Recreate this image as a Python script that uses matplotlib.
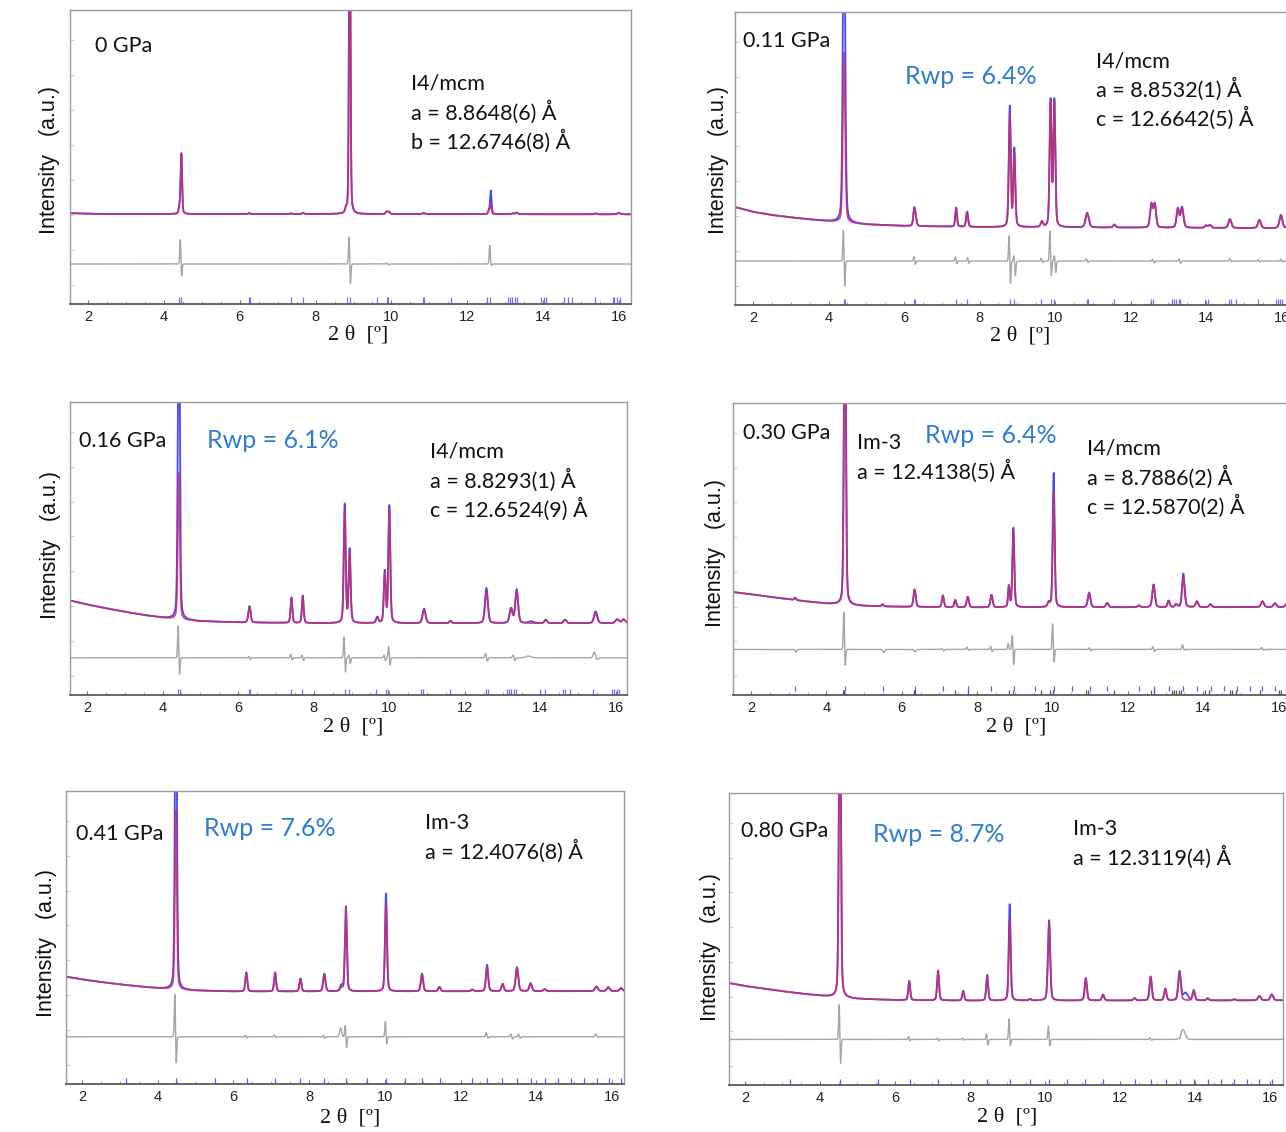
import matplotlib.pyplot as plt
import numpy as np

W, H = 1286, 1132

# background level (fraction of panel height) read at these 2theta values
bg_x = [1.5, 2, 2.5, 3, 3.5, 4, 4.5, 5, 6, 8, 16.4]
bg_000 = [0.309, 0.307, 0.306, 0.306, 0.306, 0.306, 0.306, 0.306, 0.306, 0.306, 0.305]
bg_011 = [0.335, 0.318, 0.307, 0.299, 0.292, 0.286, 0.280, 0.275, 0.270, 0.266, 0.262]
bg_016 = [0.324, 0.309, 0.296, 0.284, 0.273, 0.264, 0.257, 0.252, 0.248, 0.245, 0.245]
bg_030 = [0.353, 0.345, 0.336, 0.328, 0.320, 0.313, 0.308, 0.305, 0.302, 0.300, 0.301]
bg_041 = [0.368, 0.357, 0.348, 0.340, 0.333, 0.327, 0.322, 0.319, 0.316, 0.316, 0.317]
bg_080 = [0.351, 0.339, 0.330, 0.321, 0.313, 0.306, 0.300, 0.295, 0.291, 0.289, 0.290]

# peaks: (2theta, observed height, calculated height, fwhm)
pk_000 = [(4.41, 0.02, 0.02, 0.05), (4.46, 0.205, 0.20, 0.045), (6.25, 0.003, 0.003, 0.06),
          (7.35, 0.002, 0.002, 0.06), (7.67, 0.004, 0.004, 0.06), (8.80, 0.012, 0.012, 0.05),
          (8.90, 1.2, 1.1, 0.045), (9.87, 0.008, 0.008, 0.06), (9.93, 0.008, 0.008, 0.06),
          (10.85, 0.004, 0.004, 0.07), (12.57, 0.012, 0.012, 0.05), (12.62, 0.08, 0.035, 0.045),
          (13.20, 0.003, 0.003, 0.07), (13.30, 0.005, 0.005, 0.07), (15.38, 0.003, 0.003, 0.07),
          (16.00, 0.004, 0.004, 0.12)]
pk_011 = [(4.41, 1.2, 0.58, 0.07), (6.27, 0.058, 0.055, 0.06), (6.31, 0.02, 0.02, 0.06),
          (7.38, 0.065, 0.062, 0.055), (7.67, 0.052, 0.05, 0.06), (8.80, 0.41, 0.38, 0.06),
          (8.92, 0.265, 0.25, 0.06), (9.65, 0.018, 0.018, 0.07), (9.88, 0.43, 0.42, 0.06),
          (9.98, 0.43, 0.42, 0.06), (10.85, 0.05, 0.048, 0.1), (11.57, 0.01, 0.01, 0.08),
          (12.55, 0.08, 0.077, 0.08), (12.64, 0.08, 0.077, 0.08), (13.25, 0.065, 0.06, 0.08),
          (13.36, 0.07, 0.066, 0.09), (14.00, 0.008, 0.008, 0.08), (14.10, 0.01, 0.01, 0.08),
          (14.63, 0.03, 0.03, 0.09), (15.41, 0.028, 0.028, 0.09), (15.98, 0.045, 0.045, 0.09),
          (16.20, 0.02, 0.02, 0.09)]
pk_016 = [(4.43, 1.2, 0.5, 0.06), (6.30, 0.056, 0.054, 0.07), (7.41, 0.087, 0.082, 0.055),
          (7.71, 0.094, 0.09, 0.055), (8.82, 0.405, 0.375, 0.06), (8.95, 0.25, 0.24, 0.06),
          (9.68, 0.02, 0.02, 0.07), (9.88, 0.175, 0.165, 0.06), (10.00, 0.40, 0.39, 0.06),
          (10.92, 0.05, 0.048, 0.09), (11.62, 0.008, 0.008, 0.07), (12.57, 0.12, 0.11, 0.09),
          (13.22, 0.05, 0.05, 0.09), (13.37, 0.115, 0.11, 0.09), (13.75, 0.006, 0.0, 0.16),
          (14.14, 0.012, 0.012, 0.08), (14.65, 0.012, 0.012, 0.09), (15.46, 0.04, 0.035, 0.1),
          (16.03, 0.013, 0.013, 0.11), (16.20, 0.013, 0.013, 0.11)]
pk_030 = [(3.17, 0.008, 0.008, 0.05), (4.49, 1.2, 1.0, 0.06), (5.49, 0.006, 0.008, 0.06),
          (6.34, 0.058, 0.06, 0.07), (7.09, 0.04, 0.04, 0.06), (7.42, 0.025, 0.025, 0.06),
          (7.75, 0.036, 0.035, 0.07), (8.38, 0.043, 0.042, 0.07), (8.84, 0.072, 0.07, 0.05),
          (8.96, 0.272, 0.26, 0.06), (9.90, 0.015, 0.015, 0.07), (10.03, 0.46, 0.395, 0.06),
          (10.97, 0.05, 0.05, 0.08), (11.45, 0.015, 0.015, 0.08), (12.29, 0.006, 0.006, 0.08),
          (12.68, 0.078, 0.075, 0.08), (13.08, 0.022, 0.022, 0.07), (13.28, 0.01, 0.01, 0.07),
          (13.47, 0.115, 0.10, 0.08), (13.83, 0.02, 0.02, 0.08), (14.19, 0.01, 0.01, 0.08),
          (15.57, 0.02, 0.02, 0.09), (15.90, 0.013, 0.013, 0.09), (16.22, 0.013, 0.013, 0.09)]
pk_041 = [(4.48, 1.2, 0.61, 0.06), (6.34, 0.065, 0.062, 0.06), (7.10, 0.065, 0.063, 0.06),
          (7.77, 0.044, 0.043, 0.06), (8.40, 0.06, 0.058, 0.07), (8.85, 0.02, 0.01, 0.07),
          (8.97, 0.29, 0.285, 0.06), (10.03, 0.334, 0.298, 0.06), (10.98, 0.06, 0.058, 0.07),
          (11.44, 0.015, 0.015, 0.07), (12.31, 0.006, 0.006, 0.07), (12.70, 0.09, 0.08, 0.07),
          (13.11, 0.025, 0.025, 0.07), (13.49, 0.082, 0.08, 0.08), (13.85, 0.027, 0.026, 0.08),
          (14.22, 0.007, 0.007, 0.08), (15.59, 0.016, 0.016, 0.09), (15.90, 0.013, 0.013, 0.09),
          (16.24, 0.01, 0.01, 0.09)]
pk_080 = [(4.53, 1.2, 1.1, 0.06), (6.38, 0.066, 0.064, 0.06), (7.15, 0.102, 0.1, 0.06),
          (7.82, 0.033, 0.033, 0.06), (8.46, 0.088, 0.085, 0.06), (9.06, 0.33, 0.274, 0.06),
          (9.60, 0.005, 0.005, 0.07), (10.11, 0.275, 0.272, 0.07), (11.09, 0.077, 0.075, 0.07),
          (11.55, 0.02, 0.02, 0.07), (12.39, 0.008, 0.008, 0.07), (12.82, 0.082, 0.08, 0.07),
          (13.21, 0.04, 0.04, 0.07), (13.59, 0.099, 0.097, 0.08), (13.75, 0.025, 0.0, 0.15),
          (13.97, 0.035, 0.033, 0.07), (14.34, 0.007, 0.007, 0.07), (15.05, 0.004, 0.004, 0.07),
          (15.72, 0.015, 0.015, 0.09), (16.05, 0.02, 0.02, 0.09)]

# difference curve level and features: (2theta, up, down, width)
dl_000, df_000 = 0.136, [(4.45, 0.085, 0.044, 0.035), (8.90, 0.095, 0.071, 0.035), (12.61, 0.064, 0.007, 0.035),
                         (9.90, 0.004, 0.003, 0.04)]
dl_011, df_011 = 0.150, [(4.41, 0.11, 0.09, 0.035), (8.80, 0.09, 0.08, 0.035), (8.93, 0.02, 0.05, 0.035),
                         (9.88, 0.106, 0.055, 0.035), (10.0, 0.02, 0.04, 0.035), (6.28, 0.015, 0.012, 0.035),
                         (7.38, 0.015, 0.01, 0.035), (7.70, 0.012, 0.008, 0.035), (9.65, 0.01, 0.005, 0.035),
                         (10.85, 0.008, 0.006, 0.04), (12.60, 0.006, 0.006, 0.04), (13.30, 0.008, 0.008, 0.04),
                         (14.65, 0.008, 0.003, 0.04), (15.40, 0.005, 0.003, 0.04), (16.0, 0.006, 0.003, 0.04)]
dl_016, df_016 = 0.127, [(4.43, 0.112, 0.062, 0.035), (8.82, 0.073, 0.052, 0.035), (8.95, 0.01, 0.02, 0.035),
                         (10.0, 0.04, 0.027, 0.035), (9.88, 0.01, 0.01, 0.035), (7.41, 0.012, 0.008, 0.035),
                         (7.71, 0.01, 0.01, 0.035), (6.30, 0.005, 0.005, 0.035), (12.57, 0.015, 0.012, 0.045),
                         (13.30, 0.01, 0.01, 0.045), (15.46, 0.02, 0.007, 0.07), (13.75, 0.006, 0.0, 0.15)]
dl_030, df_030 = 0.156, [(4.48, 0.13, 0.06, 0.035), (8.95, 0.05, 0.054, 0.035), (8.84, 0.02, 0.0, 0.035),
                         (10.02, 0.09, 0.047, 0.035), (3.17, 0.0, 0.01, 0.04), (5.49, 0.0, 0.01, 0.06),
                         (6.33, 0.0, 0.008, 0.05), (7.09, 0.003, 0.005, 0.04), (7.75, 0.008, 0.003, 0.04),
                         (8.38, 0.01, 0.008, 0.035), (11.0, 0.006, 0.005, 0.04), (12.68, 0.01, 0.008, 0.04),
                         (13.47, 0.016, 0.003, 0.04), (15.57, 0.007, 0.002, 0.05)]
dl_041, df_041 = 0.161, [(4.47, 0.15, 0.096, 0.035), (8.86, 0.03, 0.0, 0.06), (8.97, 0.04, 0.039, 0.035),
                         (10.03, 0.054, 0.027, 0.035), (6.34, 0.006, 0.004, 0.035), (7.10, 0.006, 0.003, 0.035),
                         (8.40, 0.005, 0.005, 0.035), (12.70, 0.015, 0.005, 0.04), (13.35, 0.01, 0.008, 0.04),
                         (13.55, 0.01, 0.005, 0.04), (15.60, 0.01, 0.002, 0.05)]
dl_080, df_080 = 0.156, [(4.53, 0.124, 0.088, 0.035), (9.06, 0.071, 0.024, 0.035), (10.11, 0.047, 0.024, 0.035),
                         (8.46, 0.02, 0.02, 0.035), (6.38, 0.01, 0.005, 0.035), (7.15, 0.005, 0.005, 0.035),
                         (7.82, 0.005, 0.003, 0.035), (12.82, 0.006, 0.003, 0.04), (13.75, 0.034, 0.0, 0.14),
                         (13.58, 0.0, 0.01, 0.04)]

# Bragg reflection markers
tk_i4 = [4.40, 4.45, 6.25, 6.28, 7.35, 7.67, 8.82, 8.90, 9.63, 9.87, 9.92, 10.82, 10.86, 11.57,
         12.53, 12.60, 13.08, 13.13, 13.18, 13.25, 13.30, 13.95, 14.03, 14.07, 14.55, 14.65, 14.75,
         15.38, 15.83, 15.88, 15.95, 16.03]
tk_i4_011 = [4.40, 4.44, 6.27, 6.30, 7.38, 7.67, 8.80, 8.90, 9.63, 9.88, 9.96, 10.84, 10.88, 11.56,
             12.53, 12.60, 13.10, 13.15, 13.20, 13.28, 13.32, 13.98, 14.05, 14.60, 14.66, 14.78,
             15.38, 15.85, 15.90, 15.95, 16.00]
tk_i4_016 = [4.42, 4.46, 6.28, 6.31, 7.40, 7.70, 8.82, 8.93, 9.65, 9.90, 9.97, 10.85, 10.90, 11.60,
             12.55, 12.62, 13.12, 13.17, 13.22, 13.30, 13.35, 14.00, 14.12, 14.60, 14.66, 14.78,
             15.40, 15.88, 15.95, 16.02, 16.08]
tk_i4_030 = [4.45, 4.48, 6.33, 6.36, 7.42, 7.75, 8.85, 8.95, 9.70, 9.92, 10.00, 10.90, 10.95, 11.62,
             12.60, 12.68, 13.18, 13.22, 13.27, 13.35, 13.42, 14.05, 14.15, 14.70, 14.75, 14.88,
             15.50, 16.00, 16.05]
tk_im3_030 = [3.17, 4.49, 5.49, 6.35, 7.10, 7.75, 8.38, 8.97, 9.53, 10.03, 10.52, 11.00, 11.45, 12.30,
              12.70, 13.08, 13.47, 13.82, 14.20, 14.55, 14.90, 15.25, 15.57, 15.90, 16.20]
tk_im3_041 = [3.17, 4.48, 5.50, 6.35, 7.10, 7.77, 8.40, 8.97, 9.52, 10.03, 10.52, 10.98, 11.45, 12.30,
              12.70, 13.10, 13.48, 13.87, 14.22, 14.58, 14.93, 15.27, 15.60, 15.93, 16.25]
tk_im3_080 = [3.20, 4.53, 5.55, 6.40, 7.15, 7.82, 8.46, 9.06, 9.60, 10.10, 10.60, 11.08, 11.55, 12.40,
              12.82, 13.22, 13.60, 13.98, 14.35, 14.70, 15.05, 15.40, 15.72, 16.05]

# panel layout in pixels: box (left, right, top, bottom), xlim, texts
panels = [
    dict(box=(70, 631, 10, 304), xlim=(1.525, 16.316), bg=bg_000, pk=pk_000, dl=dl_000, df=df_000,
         ticks=[(tk_i4, '#7070ff', 0.0, 0.024)], ylab=(50, 160), xlab=(358, 335),
         press=('0 GPa', 95, 46), rwp=None,
         blocks=[(411, 84, ['I4/mcm', 'a = 8.8648(6) Å', 'b = 12.6746(8) Å'])]),
    dict(box=(735, 1293, 12, 305), xlim=(1.523, 16.3), bg=bg_011, pk=pk_011, dl=dl_011, df=df_011,
         ticks=[(tk_i4_011, '#7070ff', 0.0, 0.022)], ylab=(718, 160), xlab=(1020, 336),
         press=('0.11 GPa', 743, 41), rwp=('Rwp = 6.4%', 905, 76),
         blocks=[(1096, 61, ['I4/mcm', 'a = 8.8532(1) Å', 'c = 12.6642(5) Å'])]),
    dict(box=(70, 627, 402, 695), xlim=(1.55, 16.29), bg=bg_016, pk=pk_016, dl=dl_016, df=df_016,
         ticks=[(tk_i4_016, '#7070ff', 0.0, 0.02)], ylab=(51, 545), xlab=(353, 727),
         press=('0.16 GPa', 79, 441), rwp=('Rwp = 6.1%', 207, 440),
         blocks=[(430, 452, ['I4/mcm', 'a = 8.8293(1) Å', 'c = 12.6524(9) Å'])]),
    dict(box=(733, 1290, 403, 695), xlim=(1.522, 16.3), bg=bg_030, pk=pk_030, dl=dl_030, df=df_030,
         ticks=[(tk_i4_030, '#555555', 0.0, 0.018), (tk_im3_030, '#5a5aff', 0.012, 0.032)],
         ylab=(716, 553), xlab=(1016, 727),
         press=('0.30 GPa', 743, 433), rwp=('Rwp = 6.4%', 925, 435),
         blocks=[(857, 443, ['Im-3', 'a = 12.4138(5) Å']),
                 (1087, 449, ['I4/mcm', 'a = 8.7886(2) Å', 'c = 12.5870(2) Å'])]),
    dict(box=(66, 624, 791, 1084), xlim=(1.577, 16.317), bg=bg_041, pk=pk_041, dl=dl_041, df=df_041,
         ticks=[(tk_im3_041, '#5a5aff', 0.0, 0.02)], ylab=(47, 943), xlab=(350, 1118),
         press=('0.41 GPa', 76, 834), rwp=('Rwp = 7.6%', 204, 829),
         blocks=[(425, 823, ['Im-3', 'a = 12.4076(8) Å'])]),
    dict(box=(729, 1283, 793, 1085), xlim=(1.573, 16.35), bg=bg_080, pk=pk_080, dl=dl_080, df=df_080,
         ticks=[(tk_im3_080, '#5a5aff', 0.0, 0.02)], ylab=(711, 947), xlab=(1007, 1117),
         press=('0.80 GPa', 741, 831), rwp=('Rwp = 8.7%', 873, 834),
         blocks=[(1073, 829, ['Im-3', 'a = 12.3119(4) Å'])]),
]

LN2 = 4 * np.log(2)


def profile(x, peaks, col):
    y = np.zeros_like(x)
    for pk in peaks:
        pos, h, w = pk[0], pk[col], pk[3]
        g = np.exp(-LN2 * ((x - pos) / w) ** 2)
        lor = 1 / (1 + 4 * ((x - pos) / w) ** 2)
        y += h * (0.7 * g + 0.3 * lor)
    return y


def diff_curve(x, feats):
    y = np.zeros_like(x)
    for pos, up, dn, w in feats:
        y += up * np.exp(-LN2 * ((x - pos + 0.5 * w) / w) ** 2)
        y -= dn * np.exp(-LN2 * ((x - pos - 0.5 * w) / w) ** 2)
    return y


fig = plt.figure(figsize=(W / 100, H / 100), dpi=100)
x = np.linspace(1.4, 16.5, 8000)

for p in panels:
    l, r, t, b = p['box']
    ax = fig.add_axes([l / W, 1 - b / H, (r - l) / W, (b - t) / H])

    bg = np.interp(x, bg_x, p['bg'])
    obs = bg + profile(x, p['pk'], 1)
    calc = bg + profile(x, p['pk'], 2)
    dif = p['dl'] + diff_curve(x, p['df'])

    ax.plot(x, dif, color='#a5a5a5', lw=1.0)
    ax.plot(x, obs, color='#4646ff', lw=1.3)
    ax.plot(x, calc, color='#c8306a', lw=1.3, alpha=0.85)
    for pos, col, y0, y1 in p['ticks']:
        ax.vlines(pos, y0, y1, color=col, lw=0.9)

    ax.set_xticks(range(2, 17, 2))
    ax.set_xticks(np.arange(2.5, 16.3, 0.5), minor=True)
    ax.set_yticks(np.arange(0.065, 1, 0.119))
    ax.set_yticklabels([])
    # limits last, set_xticks may widen them
    ax.set_xlim(*p['xlim'])
    ax.set_ylim(0, 1)
    ax.tick_params(axis='x', which='major', direction='in', length=3, color='#777777',
                   labelsize=10.5, pad=4, labelcolor='#222222')
    ax.tick_params(axis='x', which='minor', direction='in', length=2, color='#999999')
    ax.tick_params(axis='y', direction='in', length=3, color='#c2d2e4', width=0.8)
    for lab in ax.get_xticklabels():
        lab.set_family('Liberation Sans')
    for side in ['top', 'right', 'left']:
        ax.spines[side].set_color('#9a9a9a')
        ax.spines[side].set_linewidth(1.0)
    ax.spines['bottom'].set_color('#5a5a5a')
    ax.spines['bottom'].set_linewidth(1.3)

    fx, fy = p['ylab']
    fig.text(fx / W, 1 - fy / H, 'Intensity   (a.u.)', rotation=90, ha='center', va='center',
             fontsize=15.5, family='Liberation Sans', color='#111111')
    fx, fy = p['xlab']
    fig.text(fx / W, 1 - fy / H, '2 θ  [º]', ha='center', va='center',
             fontsize=16, family='Liberation Serif', color='#111111')
    s, fx, fy = p['press']
    fig.text(fx / W, 1 - fy / H, s, ha='left', va='center', fontsize=15.5, family='Lato',
             color='#111111')
    if p['rwp'] is not None:
        s, fx, fy = p['rwp']
        fig.text(fx / W, 1 - fy / H, s, ha='left', va='center', fontsize=18, family='Lato',
                 color='#2e7dd1')
    for fx, fy, lines in p['blocks']:
        for i, s in enumerate(lines):
            fig.text(fx / W, 1 - (fy + i * 28.5) / H, s, ha='left', va='center', fontsize=15.5,
                     family='Lato', color='#111111')

fig.savefig('out.png', dpi=100)
